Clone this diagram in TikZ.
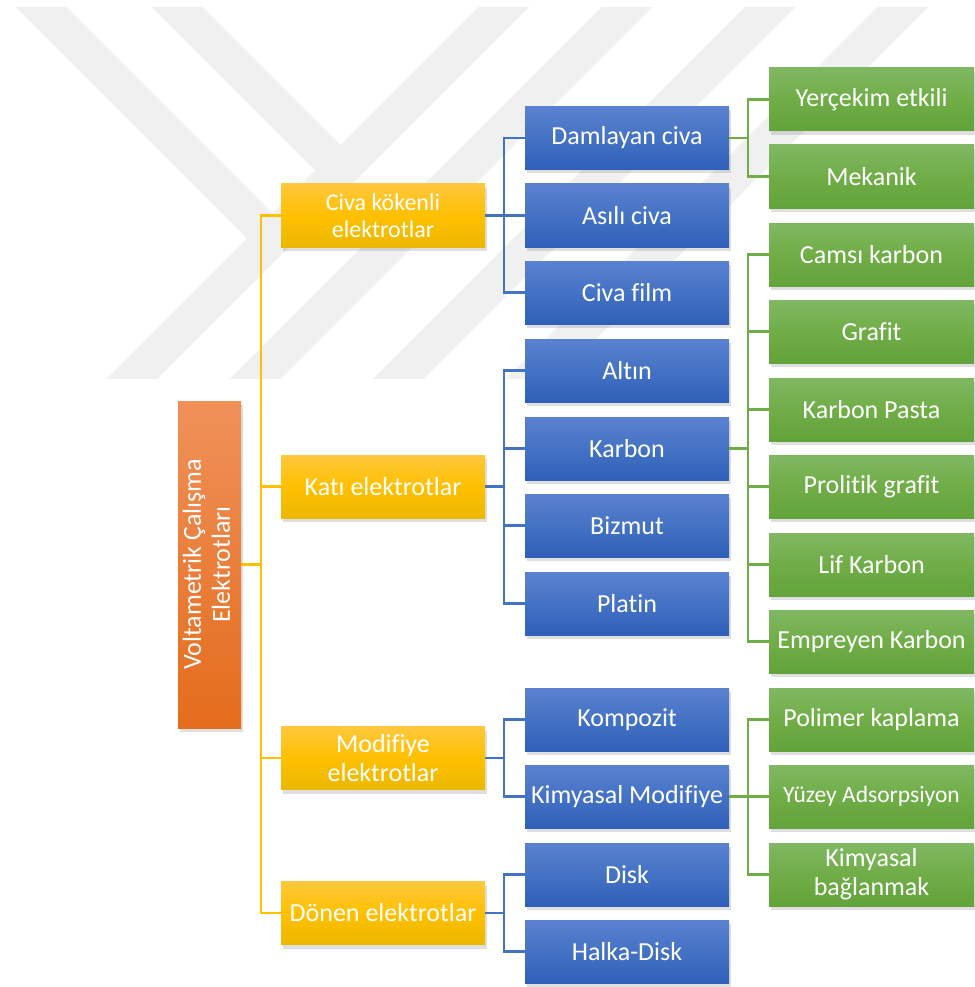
\documentclass[tikz,border=0pt]{standalone}
\usepackage{fontspec}
\setmainfont{Carlito}[Ligatures=NoCommon]
\usetikzlibrary{shadows}
\definecolor{orgtop}{HTML}{F0915A}
\definecolor{orgbot}{HTML}{E46C1C}
\definecolor{yeltop}{HTML}{FFC83D}
\definecolor{yelmid}{HTML}{FFC000}
\definecolor{yelbot}{HTML}{EBB800}
\definecolor{blutop}{HTML}{5B82D0}
\definecolor{blumid}{HTML}{4472C4}
\definecolor{blubot}{HTML}{2F5FB8}
\definecolor{grntop}{HTML}{80B862}
\definecolor{grnmid}{HTML}{70AD47}
\definecolor{grnbot}{HTML}{62A33A}
\definecolor{wmgray}{HTML}{F0F0F0}
\tikzset{
  box/.style = {
    rectangle, inner sep=2pt, align=center, text=white,
    minimum height=63pt,
    font=\fontsize{26}{29}\selectfont,
    drop shadow={shadow xshift=1.5pt, shadow yshift=-4pt, opacity=0.25}
  },
  rootbox/.style = {box, minimum width=63pt, minimum height=327pt,
    top color=orgtop, bottom color=orgbot},
  ybox/.style = {box, minimum width=204pt,
    top color=yeltop, bottom color=yelbot, middle color=yelmid},
  bbox/.style = {box, minimum width=204pt,
    top color=blutop, bottom color=blubot, middle color=blumid},
  gbox/.style = {box, minimum width=205pt,
    top color=grntop, bottom color=grnbot, middle color=grnmid},
  yline/.style = {draw=yelmid, line width=2.5pt},
  bline/.style = {draw=blumid, line width=2.5pt},
  gline/.style = {draw=grnmid, line width=2.5pt},
  wm/.style = {draw=wmgray, line width=35.4pt}
}

\begin{document}
\begin{tikzpicture}[x=1pt,y=-1pt]
\useasboundingbox[fill=white] (0,0) rectangle (974,987);

% faint watermark in the background
\begin{scope}
\clip (0,8) rectangle (974,378);
\foreach \c in {503,626,769,902}
  \draw[wm] (\c+20,-12) -- (\c-390,398);
\draw[wm] (22,-12) -- (272,238);
\draw[wm] (158,-12) -- (340.5,170.5);
\end{scope}

% bracket columns
\coordinate (yb) at (261,0);
\coordinate (bb) at (504,0);
\coordinate (gb) at (748,0);

\node[rootbox] (root) at (209.5,564.5)
  {\rotatebox{90}{\begin{tabular}{@{}c@{}}Voltametrik Çalışma\\Elektrotları\end{tabular}}};

\node[ybox, font=\fontsize{24}{27}\selectfont] (civa) at (383,215.5) {Civa kökenli\\elektrotlar};
\node[ybox] (kati)  at (383,486.5) {Katı elektrotlar};
\node[ybox] (modif) at (383,758)   {Modifiye\\elektrotlar};
\node[ybox] (donen) at (383,913)   {Dönen elektrotlar};

\foreach \n/\y/\t in {damla/138/Damlayan civa, asili/215.5/Asılı civa,
    cfilm/292.5/Civa film, altin/370.5/Altın, karbon/448.5/Karbon,
    bizmut/525.5/Bizmut, platin/603.5/Platin, kompozit/719.5/Kompozit,
    kmodif/796.5/Kimyasal Modifiye, disk/874.5/Disk, halka/951.5/Halka-Disk}
  \node[bbox] (\n) at (627,\y) {\t};

\foreach \n/\y/\t in {yercekim/99.5/Yerçekim etkili, mekanik/176.5/Mekanik,
    camsi/254.5/Camsı karbon, grafit/331.5/Grafit, kpasta/409.5/Karbon Pasta,
    prolitik/486.5/Prolitik grafit, lif/564.5/Lif Karbon,
    empreyen/641.5/Empreyen Karbon, polimer/719.5/Polimer kaplama,
    kbag/874.5/Kimyasal\\bağlanmak}
  \node[gbox] (\n) at (871.5,\y) {\t};
\node[gbox, font=\fontsize{23.5}{27}\selectfont] (yuzey) at (871.5,796.5) {Yüzey Adsorpsiyon};

% root to first level
\draw[yline] (root.east) -- (root.east -| yb)
  (civa.west) -| (yb |- donen.west) -- (donen.west);
\foreach \c in {kati,modif}
  \draw[yline] (\c.west) -- (\c.west -| yb);

% first level to second level
\foreach \p/\a/\b in {civa/damla/cfilm, kati/altin/platin,
    modif/kompozit/kmodif, donen/disk/halka}
  \draw[bline] (\p.east) -- (\p.east -| bb)
    (\a.west) -| (bb |- \b.west) -- (\b.west);
\foreach \c in {asili,karbon,bizmut}
  \draw[bline] (\c.west) -- (\c.west -| bb);

% second level to third level
\foreach \p/\a/\b in {damla/yercekim/mekanik, karbon/camsi/empreyen,
    kmodif/polimer/kbag}
  \draw[gline] (\p.east) -- (\p.east -| gb)
    (\a.west) -| (gb |- \b.west) -- (\b.west);
\foreach \c in {grafit,kpasta,prolitik,lif,yuzey}
  \draw[gline] (\c.west) -- (\c.west -| gb);
\end{tikzpicture}
\end{document}
